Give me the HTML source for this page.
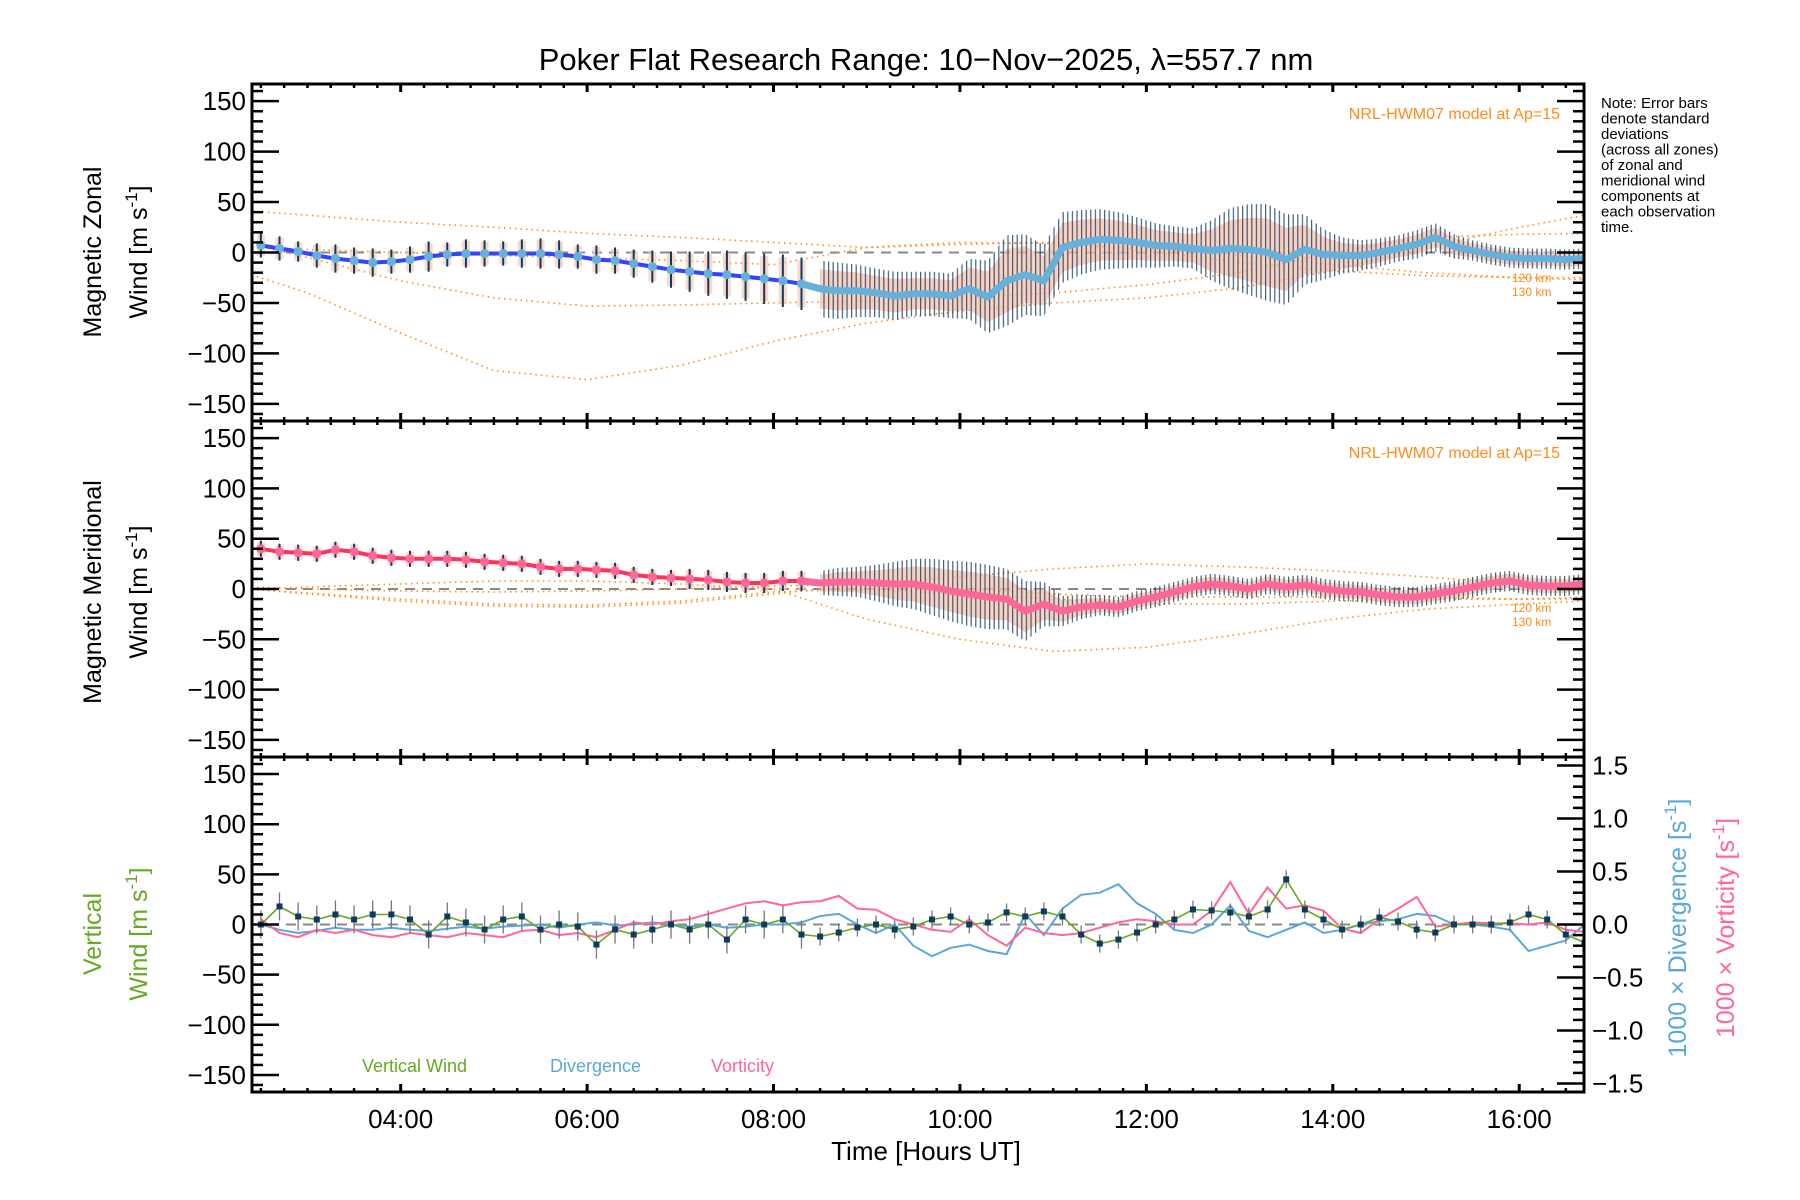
<!DOCTYPE html>
<html><head><meta charset="utf-8"><title>Poker Flat winds</title>
<style>
html,body{margin:0;padding:0;background:#fff;}
svg{display:block;font-family:"Liberation Sans",sans-serif;}
</style></head>
<body>
<svg id="chart" xmlns="http://www.w3.org/2000/svg" width="1800" height="1200" viewBox="0 0 1800 1200">
<defs>
<pattern id="stripes" patternUnits="userSpaceOnUse" width="4.6" height="10"><rect x="0" y="0" width="1.2" height="10" fill="#0d3b5e"/></pattern>
</defs>
<rect x="0" y="0" width="1800" height="1200" fill="#fff"/>
<text x="926" y="70" text-anchor="middle" font-size="31">Poker Flat Research Range: 10−Nov−2025, λ=557.7 nm</text>
<g id="plots"></g>
<g id="axes"></g>
<text x="1601" y="108" font-size="15"><tspan x="1601" dy="0">Note: Error bars</tspan><tspan x="1601" dy="15.5">denote standard</tspan><tspan x="1601" dy="15.5">deviations</tspan><tspan x="1601" dy="15.5">(across all zones)</tspan><tspan x="1601" dy="15.5">of zonal and</tspan><tspan x="1601" dy="15.5">meridional wind</tspan><tspan x="1601" dy="15.5">components at</tspan><tspan x="1601" dy="15.5">each observation</tspan><tspan x="1601" dy="15.5">time.</tspan></text>
<text x="1560" y="119" text-anchor="end" font-size="16" fill="#ff8c1a">NRL-HWM07 model at Ap=15</text>
<text x="1560" y="458" text-anchor="end" font-size="16" fill="#ff8c1a">NRL-HWM07 model at Ap=15</text>
<text x="1512" y="282" font-size="12" fill="#ff8c1a">120 km</text>
<text x="1512" y="296" font-size="12" fill="#ff8c1a">130 km</text>
<text x="1512" y="612" font-size="12" fill="#ff8c1a">120 km</text>
<text x="1512" y="626" font-size="12" fill="#ff8c1a">130 km</text>
<text transform="translate(101,252) rotate(-90)" text-anchor="middle" font-size="25">Magnetic Zonal</text>
<text transform="translate(147,252) rotate(-90)" text-anchor="middle" font-size="25">Wind [m s<tspan font-size="17" dy="-10">-1</tspan><tspan dy="10">]</tspan></text>
<text transform="translate(101,592) rotate(-90)" text-anchor="middle" font-size="25">Magnetic Meridional</text>
<text transform="translate(147,592) rotate(-90)" text-anchor="middle" font-size="25">Wind [m s<tspan font-size="17" dy="-10">-1</tspan><tspan dy="10">]</tspan></text>
<text transform="translate(101,934) rotate(-90)" text-anchor="middle" font-size="25" fill="#66aa22">Vertical</text>
<text transform="translate(147,934) rotate(-90)" text-anchor="middle" font-size="25" fill="#66aa22">Wind [m s<tspan font-size="17" dy="-10">-1</tspan><tspan dy="10">]</tspan></text>
<text transform="translate(1686,928) rotate(-90)" text-anchor="middle" font-size="25" fill="#5aa8d8">1000 × Divergence [s<tspan font-size="17" dy="-10">-1</tspan><tspan dy="10">]</tspan></text>
<text transform="translate(1734,928) rotate(-90)" text-anchor="middle" font-size="25" fill="#ff6699">1000 × Vorticity [s<tspan font-size="17" dy="-10">-1</tspan><tspan dy="10">]</tspan></text>
<text x="362" y="1072" font-size="18" fill="#66aa22">Vertical Wind</text>
<text x="550" y="1072" font-size="18" fill="#5aa8d8">Divergence</text>
<text x="711" y="1072" font-size="18" fill="#ff6699">Vorticity</text>
<text x="926" y="1160" text-anchor="middle" font-size="26">Time [Hours UT]</text>
</svg>
<script>
// ---- data (hours UT) ----
const times=[2.5,2.7,2.9,3.1,3.3,3.5,3.7,3.9,4.1,4.3,4.5,4.7,4.9,5.1,5.3,5.5,5.7,5.9,6.1,6.3,6.5,6.7,6.9,7.1,7.3,7.5,7.7,7.9,8.1,8.3,8.5,8.7,8.9,9.1,9.3,9.5,9.7,9.9,10.1,10.3,10.5,10.7,10.9,11.1,11.3,11.5,11.7,11.9,12.1,12.3,12.5,12.7,12.9,13.1,13.3,13.5,13.7,13.9,14.1,14.3,14.5,14.7,14.9,15.1,15.3,15.5,15.7,15.9,16.1,16.3,16.5,16.7];
const zonal=[7,4,1,-3,-6,-8,-10,-9,-7,-4,-2,-1,-1,-1,-1,-1,-2,-4,-7,-8,-11,-14,-17,-19,-21,-22,-24,-26,-28,-31,-36,-38,-38,-40,-43,-41,-41,-43,-36,-44,-28,-22,-28,5,10,13,12,10,7,6,4,2,4,3,0,-7,3,-2,-3,-3,0,4,8,15,6,2,-2,-5,-6,-6,-7,-6];
const zonalStd=[12,12,10,12,14,13,14,12,13,15,12,14,13,12,14,15,14,12,14,13,14,16,18,20,22,24,24,25,26,26,28,28,26,24,24,22,22,22,30,36,45,40,35,35,32,30,28,25,22,20,20,30,40,45,48,45,35,25,18,15,14,13,14,14,12,10,10,10,10,10,10,10];
const meridional=[40,37,36,35,39,37,33,31,30,30,30,29,27,26,25,22,20,20,19,18,14,12,11,10,9,7,6,6,8,8,6,7,7,6,5,5,2,-2,-5,-8,-10,-22,-15,-22,-18,-16,-18,-12,-8,-3,2,5,3,0,5,2,4,0,-2,-3,-6,-8,-8,-5,-2,2,6,8,4,3,3,5];
const meridionalStd=[8,8,8,8,8,8,8,8,8,8,8,8,8,8,8,8,8,8,8,8,8,8,8,10,10,10,10,10,10,10,12,14,15,18,22,25,28,30,32,32,30,30,22,15,12,10,10,10,10,10,10,10,10,10,10,10,10,10,10,10,10,10,10,10,10,10,10,10,10,10,10,10];
const vertical=[0,18,8,5,10,5,10,10,5,-10,8,2,-5,5,8,-5,0,-2,-20,-5,-10,-5,0,-5,0,-15,5,0,5,-10,-12,-8,-3,0,-5,-2,5,8,0,2,12,8,13,8,-10,-19,-15,-8,0,5,15,14,12,8,15,45,15,5,-5,0,7,3,-5,-8,0,0,0,2,10,5,-10,-18];
const divergence=[0,-0.05,-0.08,-0.06,-0.03,-0.05,-0.05,-0.03,-0.05,-0.06,-0.04,-0.02,-0.04,-0.02,-0.01,0,-0.03,0,0.02,-0.01,0,0.02,0,-0.02,0,-0.03,-0.02,0,0,0.02,0.08,0.1,0,-0.08,0,-0.2,-0.3,-0.22,-0.19,-0.25,-0.28,0.1,-0.1,0.15,0.28,0.3,0.38,0.2,0.1,-0.05,-0.08,0,0.18,-0.06,-0.12,-0.05,0.02,-0.08,-0.05,0,0.03,0.05,0.1,0.08,0,0,-0.02,-0.05,-0.25,-0.2,-0.15,0];
const vorticity=[0.05,-0.08,-0.12,-0.05,-0.08,-0.05,-0.1,-0.12,-0.08,-0.1,-0.12,-0.08,-0.1,-0.12,-0.06,-0.05,-0.1,-0.08,-0.12,-0.05,0.02,0,0.03,0.05,0.1,0.15,0.2,0.22,0.18,0.21,0.22,0.27,0.15,0.14,0.05,0,-0.05,-0.07,0.05,-0.1,-0.2,-0.03,-0.08,-0.1,-0.08,-0.03,0.02,0.05,0.03,0,0,0.13,0.4,0.1,0.35,0.15,0.18,0.13,-0.04,-0.08,0.05,0.15,0.26,-0.02,0,0.02,0.01,0.01,0,0.02,-0.05,-0.07];
const modelTimes=[2.4,3,4,5,6,7,8,9,10,11,12,13,14,15,16,16.7];
const hwmZonalA=[41,37,30,25,19,15,10,5,8,10,4,-3,-12,-20,-25,-27];
const hwmZonalB=[-22,-40,-80,-117,-126,-112,-88,-70,-58,-50,-45,-35,-18,5,25,37];
const hwmZonalC=[8,-5,-28,-45,-53,-52,-50,-48,-45,-40,-32,-20,0,15,18,19];
const hwmZonalD=[5,3,0,-3,-5,-8,-12,5,10,9,2,-10,-18,-23,-25,-25];
const hwmMerA=[0,-5,-12,-17,-18,-14,-5,5,12,20,25,22,18,12,5,0];
const hwmMerB=[0,2,5,8,8,5,0,-30,-50,-62,-58,-45,-30,-20,-15,-12];
const hwmMerC=[0,-4,-10,-15,-16,-12,-3,0,-5,-10,-15,-15,-12,-10,-10,-8];
const hwmMerD=[2,0,-2,-3,-2,0,3,5,0,-5,-8,-8,-8,-8,-10,-10];
const windTicks=[-150,-100,-50,0,50,100,150];
const windTickLabels=["−150","−100","−50","0","50","100","150"];
const ratioTicks=[-1.5,-1,-0.5,0,0.5,1,1.5];
const ratioTickLabels=["−1.5","−1.0","−0.5","0.0","0.5","1.0","1.5"];
const hourTicks=[4,6,8,10,12,14,16];
const hourTickLabels=["04:00","06:00","08:00","10:00","12:00","14:00","16:00"];

// ---- geometry ----
const NS="http://www.w3.org/2000/svg";
const XL=252,XR=1584,TMIN=2.405,TMAX=16.695;
const panels=[{top:84,bot:421},{top:421,bot:757},{top:757,bot:1092}];
const WMAX=167, RMAX=1.58;
const DENSE=8.4;
function xs(t){return XL+(t-TMIN)/(TMAX-TMIN)*(XR-XL);}
function ys(p,v){const P=panels[p];const m=(P.top+P.bot)/2;return m-v*(P.bot-P.top)/2/WMAX;}
function yr(v){const P=panels[2];const m=(P.top+P.bot)/2;return m-v*(P.bot-P.top)/2/RMAX;}
function el(tag,attrs,parent){const e=document.createElementNS(NS,tag);for(const k in attrs)e.setAttribute(k,attrs[k]);parent.appendChild(e);return e;}
const plots=document.getElementById('plots');
const axes=document.getElementById('axes');

const defs=document.querySelector('defs');
panels.forEach((P,i)=>{const c=el('clipPath',{id:'clip'+i},defs);el('rect',{x:XL,y:P.top,width:XR-XL,height:P.bot-P.top},c);});

function polyline(xsArr,ysArr){return xsArr.map((x,i)=>x.toFixed(1)+','+ysArr[i].toFixed(1)).join(' ');}

function windPanel(p,mean,std,lineCol,lightCol,models,name){
  const g=el('g',{'clip-path':'url(#clip'+p+')'},plots);
  
  
  const z=el('line',{x1:XL,x2:XR,y1:ys(p,0),y2:ys(p,0),stroke:'#888','stroke-width':2,'stroke-dasharray':'10,7'},g);
  
  
  models.forEach((arr,k)=>{
    const pl=el('polyline',{points:polyline(modelTimes.map(xs),arr.map(v=>ys(p,v))),fill:'none',stroke:'#ff8c1a','stroke-width':1.6,'stroke-dasharray':'1.5,4'},g);
    
    
  });
  const di=times.map((t,i)=>i).filter(i=>times[i]>=DENSE);
  const up=di.map(i=>xs(times[i]).toFixed(1)+','+ys(p,mean[i]+std[i]).toFixed(1));
  const dn=di.slice().reverse().map(i=>xs(times[i]).toFixed(1)+','+ys(p,mean[i]-std[i]).toFixed(1));
  const up2=di.map(i=>xs(times[i]).toFixed(1)+','+ys(p,mean[i]+std[i]*0.7).toFixed(1));
  const dn2=di.slice().reverse().map(i=>xs(times[i]).toFixed(1)+','+ys(p,mean[i]-std[i]*0.7).toFixed(1));
  const band=el('polygon',{points:up2.concat(dn2).join(' '),fill:'#f8c0ac','opacity':0.75},g);
  
  
  const band2=el('polygon',{points:up.concat(dn).join(' '),fill:'url(#stripes)','opacity':0.8},g);
  
  
  times.forEach((t,i)=>{
    if(t>=DENSE)return;
    const x=xs(t);
    const r=el('rect',{x:x-4,y:ys(p,mean[i]+std[i]*0.9),width:8,height:ys(p,mean[i]-std[i]*0.9)-ys(p,mean[i]+std[i]*0.9),fill:'#f8c8b4',opacity:0.7},g);
    
    
    const b=el('line',{x1:x,x2:x,y1:ys(p,mean[i]+std[i]),y2:ys(p,mean[i]-std[i]),stroke:'#0d3b5e','stroke-width':2},g);
    
    
  });
  const ml=el('polyline',{points:polyline(times.map(xs),mean.map(v=>ys(p,v))),fill:'none',stroke:lineCol,'stroke-width':4,'stroke-linejoin':'round'},g);
  
  
  const li=times.map((t,i)=>i).filter(i=>times[i]>=DENSE-0.2);
  const ll=el('polyline',{points:polyline(li.map(i=>xs(times[i])),li.map(i=>ys(p,mean[i]))),fill:'none',stroke:lightCol,'stroke-width':7,'stroke-linejoin':'round'},g);
  
  
  times.forEach((t,i)=>{
    if(t>=DENSE)return;
    const c=el('circle',{cx:xs(t),cy:ys(p,mean[i]),r:4.5,fill:lightCol},g);
    
    
  });
}
windPanel(0,zonal,zonalStd,'#3344ff','#66b0dc',[hwmZonalA,hwmZonalB,hwmZonalC,hwmZonalD],'zonal');
windPanel(1,meridional,meridionalStd,'#ff3355','#ff6699',[hwmMerA,hwmMerB,hwmMerC,hwmMerD],'meridional');

(function(){
  const g=el('g',{'clip-path':'url(#clip2)'},plots);
  
  
  const z=el('line',{x1:XL,x2:XR,y1:ys(2,0),y2:ys(2,0),stroke:'#888','stroke-width':2,'stroke-dasharray':'10,7'},g);
  
  
  const dv=el('polyline',{points:polyline(times.map(xs),divergence.map(yr)),fill:'none',stroke:'#5aa8d8','stroke-width':2},g);
  
  
  const vo=el('polyline',{points:polyline(times.map(xs),vorticity.map(yr)),fill:'none',stroke:'#ff6699','stroke-width':2},g);
  
  
  times.forEach((t,i)=>{
    const e=t<DENSE?14:9;
    const b=el('line',{x1:xs(t),x2:xs(t),y1:ys(2,vertical[i]+e),y2:ys(2,vertical[i]-e),stroke:'#777','stroke-width':1.3},g);
    
    
  });
  const vl=el('polyline',{points:polyline(times.map(xs),vertical.map(v=>ys(2,v))),fill:'none',stroke:'#66aa22','stroke-width':1.6},g);
  
  
  times.forEach((t,i)=>{
    const s=el('rect',{x:xs(t)-3,y:ys(2,vertical[i])-3,width:6,height:6,fill:'#0d3b5e'},g);
    
    
  });
})();

panels.forEach((P,p)=>{
  const fr=el('rect',{x:XL,y:P.top,width:XR-XL,height:P.bot-P.top,fill:'none',stroke:'#000','stroke-width':3},axes);
  
  
  for(let v=-160;v<=160;v+=10){
    const major=v%50===0;
    const len=major?27:11;
    const y=ys(p,v);
    const l=el('line',{x1:XL,x2:XL+len,y1:y,y2:y,stroke:'#000','stroke-width':2.5},axes);
    
    
    if(p<2){
      const r=el('line',{x1:XR,x2:XR-len,y1:y,y2:y,stroke:'#000','stroke-width':2.5},axes);
      
      
    }
  }
  windTicks.forEach((v,k)=>{
    const t=el('text',{x:246,y:ys(p,v)+9,'text-anchor':'end','font-size':26},axes);
    t.textContent=windTickLabels[k];
    
    
  });
  for(let m=150;m<=1000;m+=15){
    const t=m/60; if(t<TMIN||t>TMAX)continue;
    const major=(m%120===0);
    const len=major?8:4;
    const x=xs(t);
    [[P.top,1],[P.bot,-1]].forEach(([yy,d])=>{
      const l=el('line',{x1:x,x2:x,y1:yy,y2:yy+d*len,stroke:'#000','stroke-width':major?3:2.5},axes);
      
      
    });
  }
});
for(let k=-15;k<=15;k++){
  const v=k/10;const y=yr(v);const major=(k%5===0);const len=major?27:11;
  const l=el('line',{x1:XR,x2:XR-len,y1:y,y2:y,stroke:'#000','stroke-width':2.5},axes);
  
  
}
ratioTicks.forEach((v,k)=>{
  const t=el('text',{x:1592,y:yr(v)+9,'font-size':26},axes);
  t.textContent=ratioTickLabels[k];
  
  
});
hourTicks.forEach((h,k)=>{
  const t=el('text',{x:xs(h),y:1139-11,'text-anchor':'middle','font-size':26},axes);
  t.textContent=hourTickLabels[k];
  
  
});
</script>
</body></html>
